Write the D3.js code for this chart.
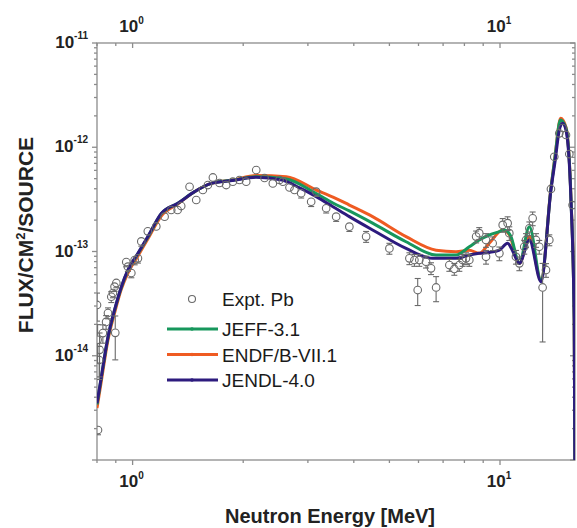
<!DOCTYPE html>
<html><head><meta charset="utf-8">
<script src="https://cdn.jsdelivr.net/npm/d3@7"></script>
<style>
body{margin:0;background:#fff}
svg{display:block;font-family:"Liberation Sans",Arial,Helvetica,sans-serif}
</style>
</head><body>
<svg id="chart" width="577" height="528"></svg>
<script>
// ---------------- data ----------------
const xDecades = [1, 10];              // labelled energy ticks (10^0, 10^1)
const xDecadeExp = ["0", "1"];
const yDecades = [1e-11, 1e-12, 1e-13, 1e-14];
const yDecadeExp = ["-11", "-12", "-13", "-14"];

const seriesNames = ["JEFF-3.1", "ENDF/B-VII.1", "JENDL-4.0"];
const seriesColors = ["#17975c", "#ef5b22", "#2d1b7e"];

// JEFF-3.1
const jeffE = [0.80, 0.822, 0.857, 0.893, 0.932, 0.971, 1.034, 1.10, 1.197, 1.328, 1.475, 1.637, 1.87, 2.17, 2.62, 3.16, 3.51, 3.89, 4.50, 5.55, 6.70, 7.59, 8.25, 8.78, 9.35, 9.96, 10.3, 10.7, 11.29, 12.02, 12.93, 13.76, 14.14, 14.6, 15.12, 15.6, 15.92, 16.0];
const jeffF = [3.4e-15, 6.2e-15, 1.5e-14, 2.72e-14, 4.55e-14, 6.6e-14, 9.5e-14, 1.37e-13, 2.3e-13, 2.9e-13, 3.75e-13, 4.5e-13, 4.82e-13, 5.2e-13, 4.96e-13, 3.6e-13, 2.92e-13, 2.45e-13, 1.87e-13, 1.24e-13, 9.25e-14, 9.25e-14, 1.11e-13, 1.29e-13, 1.44e-13, 1.55e-13, 1.61e-13, 1.4e-13, 7.7e-14, 1.73e-13, 5.33e-14, 4.0e-13, 8.5e-13, 1.83e-12, 1.53e-12, 3.2e-13, 2.2e-14, 5e-16];

// ENDF/B-VII.1
const endfE = [0.80, 0.822, 0.857, 0.893, 0.932, 0.971, 1.034, 1.10, 1.197, 1.328, 1.475, 1.637, 1.87, 2.17, 2.62, 3.16, 3.51, 3.89, 4.50, 5.55, 6.70, 7.59, 8.25, 8.78, 9.35, 10.17, 10.6, 11.29, 12.02, 12.93, 13.76, 14.14, 14.62, 15.12, 15.6, 15.92, 16.0];
const endfF = [3.15e-15, 5.7e-15, 1.42e-14, 2.57e-14, 4.37e-14, 6.2e-14, 9.05e-14, 1.32e-13, 2.19e-13, 2.86e-13, 3.75e-13, 4.5e-13, 4.85e-13, 5.35e-13, 5.22e-13, 3.89e-13, 3.33e-13, 2.79e-13, 2.16e-13, 1.39e-13, 1.03e-13, 9.97e-14, 1.03e-13, 9.6e-14, 1.2e-13, 1.61e-13, 1.45e-13, 7.7e-14, 1.39e-13, 5.33e-14, 4.07e-13, 8.6e-13, 1.9e-12, 1.56e-12, 3.3e-13, 2.3e-14, 5e-16];

// JENDL-4.0
const jendlE = [0.80, 0.822, 0.857, 0.893, 0.932, 0.971, 1.034, 1.10, 1.197, 1.328, 1.475, 1.637, 1.87, 2.17, 2.55, 2.85, 3.16, 3.51, 3.89, 4.50, 5.55, 6.56, 7.59, 8.25, 8.78, 9.35, 9.96, 10.49, 10.8, 11.29, 12.02, 12.93, 13.76, 14.14, 14.50, 14.80, 15.12, 15.6, 15.92, 16.0];
const jendlF = [3.5e-15, 6.3e-15, 1.52e-14, 2.75e-14, 4.6e-14, 6.65e-14, 9.6e-14, 1.39e-13, 2.32e-13, 2.9e-13, 3.75e-13, 4.5e-13, 4.8e-13, 5.15e-13, 4.85e-13, 4.07e-13, 3.36e-13, 2.69e-13, 2.16e-13, 1.61e-13, 1.07e-13, 8.6e-14, 8.6e-14, 9.25e-14, 9.6e-14, 9.8e-14, 1.03e-13, 1.2e-13, 1.03e-13, 7.7e-14, 1.29e-13, 5.13e-14, 3.89e-13, 7.6e-13, 1.46e-12, 1.70e-12, 1.46e-12, 3.12e-13, 2.2e-14, 5e-16];

// Expt. Pb : [energy MeV, flux, relative error]
const exptPb = [
 [0.805,1.94e-15,0.1],[0.80,3.07e-14,0.3],[0.803,1.42e-14,0.4],[0.811,9.1e-15,0.35],[0.813,1.14e-14,0.45],
 [0.830,1.65e-14,0.2],[0.847,2.11e-14,0.15],[0.857,2.57e-14,0.12],[0.875,3.68e-14,0.12],[0.884,4.0e-14,0.1],
 [0.893,4.6e-14,0.1],[0.903,4.99e-14,0.1],[0.897,1.66e-14,0.45],[0.961,7.93e-14,0.1],[0.971,7.15e-14,0.1],
 [0.992,6.22e-14,0.1],[1.013,8.28e-14,0.1],[1.034,8.6e-14,0.1],[1.056,1.25e-13,0.1],[1.100,1.56e-13,0.08],
 [1.160,1.74e-13,0.08],[1.222,2.16e-13,0.08],[1.274,2.5e-13,0.08],[1.326,2.5e-13,0.08],[1.356,2.73e-13,0.08],
 [1.429,4.18e-13,0.08],[1.490,3.12e-13,0.08],[1.553,3.89e-13,0.08],[1.603,4.34e-13,0.08],[1.654,5.13e-13,0.08],
 [1.724,4.54e-13,0.08],[1.798,4.34e-13,0.08],[1.874,4.68e-13,0.08],[1.954,4.85e-13,0.08],[2.038,4.68e-13,0.08],
 [2.170,6.05e-13,0.08],[2.286,5.07e-13,0.08],[2.408,4.5e-13,0.08],[2.511,4.85e-13,0.08],[2.564,4.68e-13,0.08],
 [2.673,4.11e-13,0.08],[2.758,3.89e-13,0.08],[2.876,3.62e-13,0.1],[3.062,3.0e-13,0.1],[3.160,3.75e-13,0.1],
 [3.364,2.6e-13,0.1],[3.581,2.16e-13,0.1],[3.890,1.73e-13,0.1],[4.321,1.39e-13,0.12],[5.0,1.07e-13,0.12],
 [5.667,8.6e-14,0.13],[5.848,8.28e-14,0.13],[6.03,8.28e-14,0.13],[6.29,7.98e-14,0.13],[6.49,6.9e-14,0.13],
 [5.97,4.27e-14,0.29],[6.70,4.52e-14,0.27],[7.28,7.42e-14,0.13],[7.51,6.8e-14,0.13],[7.75,7.42e-14,0.13],
 [7.91,8.28e-14,0.13],[8.08,8.6e-14,0.13],[8.25,8.28e-14,0.13],[8.61,1.39e-13,0.13],[8.78,1.5e-13,0.13],
 [9.16,1.29e-13,0.15],[9.16,8.9e-14,0.15],[9.55,1.2e-13,0.15],[9.96,9.6e-14,0.15],[10.17,1.8e-13,0.15],
 [10.49,1.87e-13,0.15],[10.6,1.5e-13,0.15],[11.05,8.9e-14,0.15],[11.29,7.7e-14,0.15],[11.64,1.11e-13,0.15],
 [11.77,1.29e-13,0.15],[12.02,1.67e-13,0.15],[12.27,2.08e-13,0.15],[12.53,1.29e-13,0.15],[12.79,1.11e-13,0.15],
 [13.06,4.52e-14,0.7],[13.34,6.65e-14,0.15],[13.62,1.29e-13,0.12],[13.76,3.98e-13,0.08],[14.05,8.11e-13,0.06],
 [14.50,1.36e-12,0.05],[14.80,1.53e-12,0.05],[15.12,1.31e-12,0.05],[15.44,8.61e-13,0.06],[15.76,2.79e-13,0.08]
];

// ---------------- layout ----------------
const svg = d3.select("#chart");
const L = 97, R = 575, T = 43, B = 460;
const x = d3.scaleLog().domain([0.8, 16]).range([L, R]);
const y = d3.scaleLog().domain([1e-15, 1e-11]).range([B, T]);
const axisColor = "#8c8c8c";

// clip
svg.append("defs").append("clipPath").attr("id","clip")
  .append("rect").attr("x", L).attr("y", T).attr("width", R - L).attr("height", B - T);

// minor / major tick values from the scales
const xMinor = [0.8, 0.9, 2, 3, 4, 5, 6, 7, 8, 9];
const xMajor = xDecades;
const yMinor = [];
[1e-15, 1e-14, 1e-13, 1e-12].forEach(d => { for (let k = 2; k <= 9; k++) yMinor.push(d * k); });
const yMajor = [1e-15].concat(yDecades);

// axes
const gAx = svg.append("g").attr("stroke", axisColor).attr("stroke-width", 1.3).attr("fill", "none");
gAx.append("rect").attr("x", L).attr("y", T).attr("width", R - L).attr("height", B - T);

function ticks(vals, len, orient) {
  vals.forEach(v => {
    if (orient === "bottom") gAx.append("line").attr("x1", x(v)).attr("x2", x(v)).attr("y1", B).attr("y2", B + len);
    if (orient === "top") gAx.append("line").attr("x1", x(v)).attr("x2", x(v)).attr("y1", T).attr("y2", T + len);
    if (orient === "left") gAx.append("line").attr("y1", y(v)).attr("y2", y(v)).attr("x1", L).attr("x2", L - len);
    if (orient === "right") gAx.append("line").attr("y1", y(v)).attr("y2", y(v)).attr("x1", R).attr("x2", R - len);
  });
}
ticks(xMinor, 3, "bottom"); ticks(xMajor, 5, "bottom");
ticks(xMinor, 3, "top"); ticks(xMajor, 5, "top");
ticks(yMinor, 3, "left"); ticks(yMajor, 5, "left");
ticks(yMinor, 3, "right"); ticks(yMajor, 5, "right");

// tick labels
const lblColor = "#222";
function sci(sel, exp, supSize, dy) {
  sel.append("tspan").text("10");
  sel.append("tspan").attr("dy", dy).attr("font-size", supSize).text(exp);
}
xDecades.forEach((v, i) => {
  sci(svg.append("text").attr("x", x(v) - 1).attr("y", 487).attr("text-anchor", "middle")
    .attr("font-size", 17).attr("font-weight", "bold").attr("fill", lblColor), xDecadeExp[i], 10, -8);
  sci(svg.append("text").attr("x", x(v) - 1).attr("y", 32).attr("text-anchor", "middle")
    .attr("font-size", 17).attr("font-weight", "bold").attr("fill", lblColor), xDecadeExp[i], 10, -8);
});
yDecades.forEach((v, i) => {
  sci(svg.append("text").attr("x", 88).attr("y", y(v) + 5).attr("text-anchor", "end")
    .attr("font-size", 17).attr("font-weight", "bold").attr("fill", lblColor), yDecadeExp[i], 10, -9);
});

// axis titles
const yt = svg.append("text").attr("transform", "translate(33,235) rotate(-90)")
  .attr("text-anchor", "middle").attr("font-size", 21).attr("font-weight", "bold").attr("fill", lblColor);
yt.append("tspan").text("FLUX/CM");
yt.append("tspan").attr("dy", -8).attr("font-size", 13).text("2");
yt.append("tspan").attr("dy", 8).text("/SOURCE");

svg.append("text").attr("x", 330).attr("y", 523).attr("text-anchor", "middle")
  .attr("font-size", 20).attr("font-weight", "bold").attr("fill", lblColor).text("Neutron Energy [MeV]");

// plot content
const plot = svg.append("g").attr("clip-path", "url(#clip)");

// experimental points
const ex = plot.append("g").attr("stroke", "#6a6a6a").attr("stroke-width", 1.1).attr("fill", "none");
exptPb.forEach(([e, f, r]) => {
  const lo = Math.max(f * (1 - r), 1e-16), hi = f * (1 + r);
  const px = x(e);
  if (y(lo) - y(f) > 4.5) {
    ex.append("line").attr("x1", px).attr("x2", px).attr("y1", y(f) + 4).attr("y2", y(lo));
    ex.append("line").attr("x1", px - 3).attr("x2", px + 3).attr("y1", y(lo)).attr("y2", y(lo));
  }
  if (y(f) - y(hi) > 4.5) {
    ex.append("line").attr("x1", px).attr("x2", px).attr("y1", y(f) - 4).attr("y2", y(hi));
    ex.append("line").attr("x1", px - 3).attr("x2", px + 3).attr("y1", y(hi)).attr("y2", y(hi));
  }
});

// calculated curves
const line = d3.line().x(d => x(d[0])).y(d => y(d[1])).curve(d3.curveMonotoneX);
const seriesData = [
  d3.zip(jeffE, jeffF),
  d3.zip(endfE, endfF),
  d3.zip(jendlE, jendlF)
];
// draw order: orange, green, blue on top
[1, 0, 2].forEach(i => {
  plot.append("path").datum(seriesData[i]).attr("d", line)
    .attr("fill", "none").attr("stroke", seriesColors[i]).attr("stroke-width", 3)
    .attr("stroke-linejoin", "round");
});

ex.raise();
exptPb.forEach(([e, f]) => {
  ex.append("circle").attr("cx", x(e)).attr("cy", y(f)).attr("r", 3.8);
});

// legend
const lg = svg.append("g").attr("font-size", 19).attr("fill", "#1a1a1a");
lg.append("circle").attr("cx", 192).attr("cy", 299).attr("r", 3.5)
  .attr("fill", "none").attr("stroke", "#6a6a6a").attr("stroke-width", 1.1);
lg.append("text").attr("x", 222).attr("y", 306).text("Expt. Pb");
seriesNames.forEach((n, i) => {
  const yy = 329 + i * 25.5;
  lg.append("line").attr("x1", 167).attr("x2", 218).attr("y1", yy).attr("y2", yy)
    .attr("stroke", seriesColors[i]).attr("stroke-width", 3);
  lg.append("circle").attr("cx", 192).attr("cy", yy).attr("r", 1.8).attr("fill", seriesColors[i]);
  lg.append("text").attr("x", 222).attr("y", yy + 7).text(n);
});
</script>
</body></html>
